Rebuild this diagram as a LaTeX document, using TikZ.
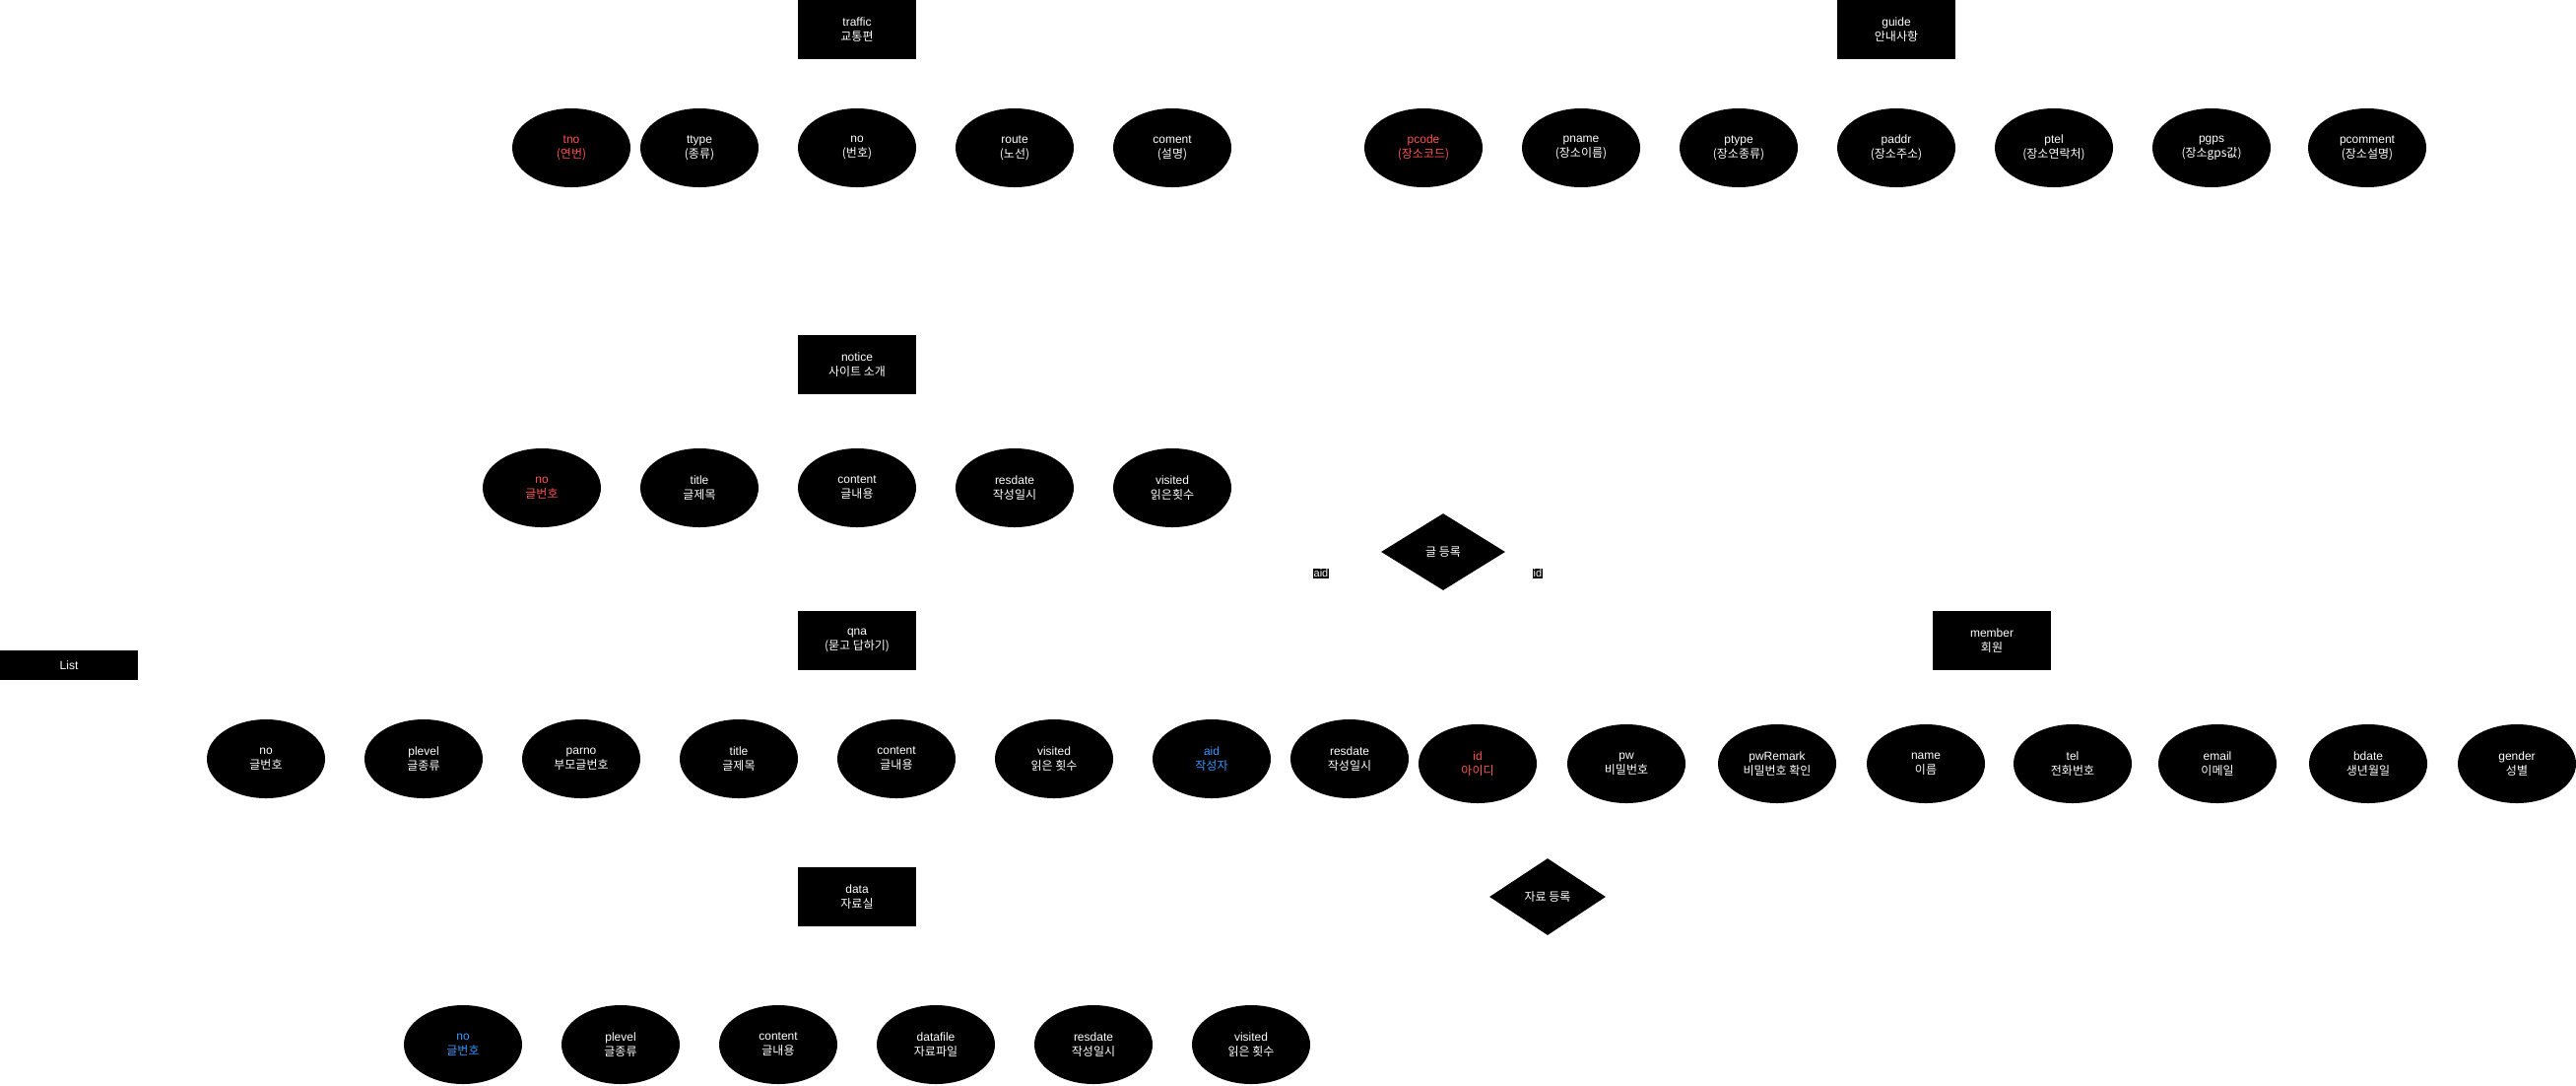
\documentclass[tikz,border=0pt]{standalone}
\usepackage{fontspec}
\setmainfont{Liberation Sans}
\newfontfamily\krfont{Noto Sans CJK KR}
\newcommand\ko[1]{{\krfont #1}}
\usetikzlibrary{shapes.geometric,backgrounds}
\definecolor{keyred}{HTML}{FF5252}
\definecolor{keyblue}{HTML}{3399FF}
\tikzset{
  base/.style={fill=black,text=white,inner sep=0pt,align=center,font=\fontsize{9}{11.25}\selectfont},
  entity/.style={base,rectangle,minimum width=90pt,minimum height=45pt},
  listbox/.style={base,rectangle,minimum width=105pt,minimum height=22.5pt},
  attr/.style={base,ellipse,minimum width=90pt,minimum height=60pt},
  rel/.style={base,diamond,minimum width=#1,minimum height=58.5pt},
  elabel/.style={fill=black,text=white,inner sep=0.5pt,font=\fontsize{8.25}{9}\selectfont},
  link/.style={draw=white,line width=0.75pt},
  pk/.style={text=keyred},
  fk/.style={text=keyblue}
}
\begin{document}
\begin{tikzpicture}[x=0.75pt,y=-0.75pt]
\useasboundingbox (0,0) rectangle (2615,1101);
% traffic
\node[entity] (tr) at (870,30) {traffic\\\ko{교통편}};
\node[attr,pk] (tno) at (580,150) {tno\\\ko{(연번)}};
\node[attr] (ttype) at (710,150) {ttype\\\ko{(종류)}};
\node[attr] (tnum) at (870,150) {no\\\ko{(번호)}};
\node[attr] (troute) at (1030,150) {route\\\ko{(노선)}};
\node[attr] (tcoment) at (1190,150) {coment\\\ko{(설명)}};
% guide
\node[entity] (gd) at (1925,30) {guide\\\ko{안내사항}};
\node[attr,pk] (pcode) at (1445,150) {pcode\\\ko{(장소코드)}};
\node[attr] (pname) at (1605,150) {pname\\\ko{(장소이름)}};
\node[attr] (ptype) at (1765,150) {ptype\\\ko{(장소종류)}};
\node[attr] (paddr) at (1925,150) {paddr\\\ko{(장소주소)}};
\node[attr] (ptel) at (2085,150) {ptel\\\ko{(장소연락처)}};
\node[attr] (pgps) at (2245,150) {pgps\\\ko{(장소gps값)}};
\node[attr] (pcomment) at (2403,150) {pcomment\\\ko{(장소설명)}};
% notice
\node[entity] (nt) at (870,370) {notice\\\ko{사이트 소개}};
\node[attr,pk] (nno) at (550,495) {no\\\ko{글번호}};
\node[attr] (ntitle) at (710,495) {title\\\ko{글제목}};
\node[attr] (ncontent) at (870,495) {content\\\ko{글내용}};
\node[attr] (nresdate) at (1030,495) {resdate\\\ko{작성일시}};
\node[attr] (nvisited) at (1190,495) {visited\\\ko{읽은횟수}};
% relation 1
\node[rel=94.5pt] (rel1) at (1465,560) {\ko{글 등록}};
\node[elabel] (laid) at (1341,582) {aid};
\node[elabel] (lid) at (1561,582) {id};
% list
\node[listbox] (list) at (70,675) {List};
% qna
\node[entity] (qna) at (870,650) {qna\\\ko{(묻고 답하기)}};
\node[attr] (qno) at (270,770) {no\\\ko{글번호}};
\node[attr] (qplevel) at (430,770) {plevel\\\ko{글종류}};
\node[attr] (qparno) at (590,770) {parno\\\ko{부모글번호}};
\node[attr] (qtitle) at (750,770) {title\\\ko{글제목}};
\node[attr] (qcontent) at (910,770) {content\\\ko{글내용}};
\node[attr] (qvisited) at (1070,770) {visited\\\ko{읽은 횟수}};
\node[attr,fk] (qaid) at (1230,770) {aid\\\ko{작성자}};
\node[attr] (qresdate) at (1370,770) {resdate\\\ko{작성일시}};
% member
\node[entity] (mem) at (2022,650) {member\\\ko{회원}};
\node[attr,pk] (mid) at (1500,775) {id\\\ko{아이디}};
\node[attr] (mpw) at (1651,775) {pw\\\ko{비밀번호}};
\node[attr] (mpwr) at (1804,775) {pwRemark\\\ko{비밀번호 확인}};
\node[attr] (mname) at (1955,775) {name\\\ko{이름}};
\node[attr] (mtel) at (2104,775) {tel\\\ko{전화번호}};
\node[attr] (memail) at (2251,775) {email\\\ko{이메일}};
\node[attr] (mbdate) at (2404,775) {bdate\\\ko{생년월일}};
\node[attr] (mgender) at (2555,775) {gender\\\ko{성별}};
% data
\node[entity] (dat) at (870,910) {data\\\ko{자료실}};
\node[rel=88.5pt] (rel2) at (1571,910) {\ko{자료 등록}};
\node[attr,fk] (dno) at (470,1060) {no\\\ko{글번호}};
\node[attr] (dplevel) at (630,1060) {plevel\\\ko{글종류}};
\node[attr] (dcontent) at (790,1060) {content\\\ko{글내용}};
\node[attr] (dfile) at (950,1060) {datafile\\\ko{자료파일}};
\node[attr] (dresdate) at (1110,1060) {resdate\\\ko{작성일시}};
\node[attr] (dvisited) at (1270,1060) {visited\\\ko{읽은 횟수}};
% connectors (drawn white in the original)
\begin{scope}[on background layer]
\foreach \a in {tno,ttype,tnum,troute,tcoment} \draw[link] (tr) -- (\a);
\foreach \a in {pcode,pname,ptype,paddr,ptel,pgps,pcomment} \draw[link] (gd) -- (\a);
\foreach \a in {nno,ntitle,ncontent,nresdate,nvisited} \draw[link] (nt) -- (\a);
\foreach \a in {qno,qplevel,qparno,qtitle,qcontent,qvisited,qaid,qresdate} \draw[link] (qna) -- (\a);
\foreach \a in {mid,mpw,mpwr,mname,mtel,memail,mbdate,mgender} \draw[link] (mem) -- (\a);
\foreach \a in {dno,dplevel,dcontent,dfile,dresdate,dvisited} \draw[link] (dat) -- (\a);
\end{scope}
\end{tikzpicture}
\end{document}
